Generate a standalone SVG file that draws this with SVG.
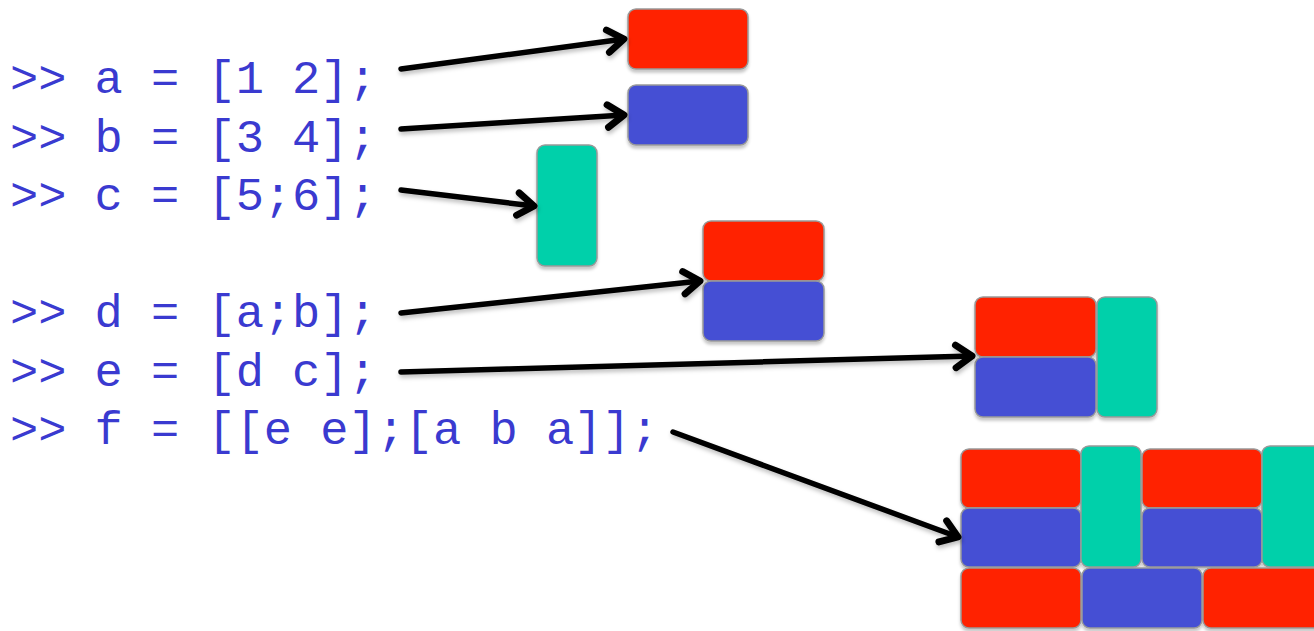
<svg xmlns="http://www.w3.org/2000/svg" width="1314" height="631" viewBox="0 0 1314 631">
<style>
.code{font-family:"Courier New","Liberation Mono",monospace;font-size:47px;fill:#3a3ad0;white-space:pre}
.cell{stroke:#999;stroke-width:1.5}
.r{fill:#ff2200}
.b{fill:#4450d4}
.t{fill:#00d0aa}
.conn{stroke:#000;stroke-width:5.5;fill:none;stroke-linecap:round}
</style>
<defs>
<filter id="sh" x="-10%" y="-10%" width="120%" height="130%">
<feDropShadow dx="0" dy="3" stdDeviation="1.5" flood-color="#000" flood-opacity="0.22"/>
</filter>
<filter id="lsh" x="-5%" y="-50%" width="110%" height="200%">
<feDropShadow dx="1" dy="3" stdDeviation="2" flood-color="#000" flood-opacity="0.25"/>
</filter>
<marker id="arr" markerUnits="userSpaceOnUse" markerWidth="30" markerHeight="30" refX="0" refY="0" viewBox="-16 -12 20 24" orient="auto" overflow="visible">
<path d="M -13 -9 L 0 0 L -13 9" fill="none" stroke="#000" stroke-width="5.5" stroke-linecap="round" stroke-linejoin="round"/>
</marker>
</defs>
<rect width="1314" height="631" fill="#fff"/>
<g id="code">
<text class="code" x="10" y="93">&gt;&gt; a = [1 2];</text>
<text class="code" x="10" y="151.5">&gt;&gt; b = [3 4];</text>
<text class="code" x="10" y="210">&gt;&gt; c = [5;6];</text>
<text class="code" x="10" y="327">&gt;&gt; d = [a;b];</text>
<text class="code" x="10" y="385.5">&gt;&gt; e = [d c];</text>
<text class="code" x="10" y="444">&gt;&gt; f = [[e e];[a b a]];</text>
</g>
<g id="node-a" filter="url(#sh)">
<rect class="cell r" x="628" y="9" width="120" height="60" rx="8"/>
</g>
<g id="node-b" filter="url(#sh)">
<rect class="cell b" x="628" y="85" width="120" height="60" rx="8"/>
</g>
<g id="node-c" filter="url(#sh)">
<rect class="cell t" x="537" y="145" width="60" height="121" rx="8"/>
</g>
<g id="node-d" filter="url(#sh)">
<rect class="cell r" x="703" y="221" width="121" height="60" rx="8"/>
<rect class="cell b" x="703" y="281" width="121" height="60" rx="8"/>
</g>
<g id="node-e" filter="url(#sh)">
<rect class="cell r" x="975" y="297" width="121" height="60" rx="8"/>
<rect class="cell b" x="975" y="357" width="121" height="60" rx="8"/>
<rect class="cell t" x="1097" y="297" width="60" height="120" rx="8"/>
</g>
<g id="node-f" filter="url(#sh)">
<rect class="cell r" x="961" y="449" width="120" height="59" rx="8"/>
<rect class="cell b" x="961" y="508" width="120" height="59" rx="8"/>
<rect class="cell t" x="1081" y="446" width="60" height="121" rx="8"/>
<rect class="cell r" x="1142" y="449" width="120" height="59" rx="8"/>
<rect class="cell b" x="1142" y="508" width="120" height="59" rx="8"/>
<rect class="cell t" x="1262" y="446" width="60" height="121" rx="8"/>
<rect class="cell r" x="961" y="568" width="120" height="60" rx="8"/>
<rect class="cell b" x="1082" y="568" width="120" height="60" rx="8"/>
<rect class="cell r" x="1203" y="568" width="120" height="60" rx="8"/>
</g>
<g id="connectors" filter="url(#lsh)">
<line class="conn" x1="401" y1="69" x2="624" y2="39" marker-end="url(#arr)"/>
<line class="conn" x1="401" y1="129" x2="624" y2="115" marker-end="url(#arr)"/>
<line class="conn" x1="401" y1="190" x2="534" y2="206" marker-end="url(#arr)"/>
<line class="conn" x1="401" y1="313" x2="700" y2="281" marker-end="url(#arr)"/>
<line class="conn" x1="401" y1="372" x2="972" y2="356" marker-end="url(#arr)"/>
<line class="conn" x1="673" y1="432" x2="958" y2="537" marker-end="url(#arr)"/>
</g>
</svg>
